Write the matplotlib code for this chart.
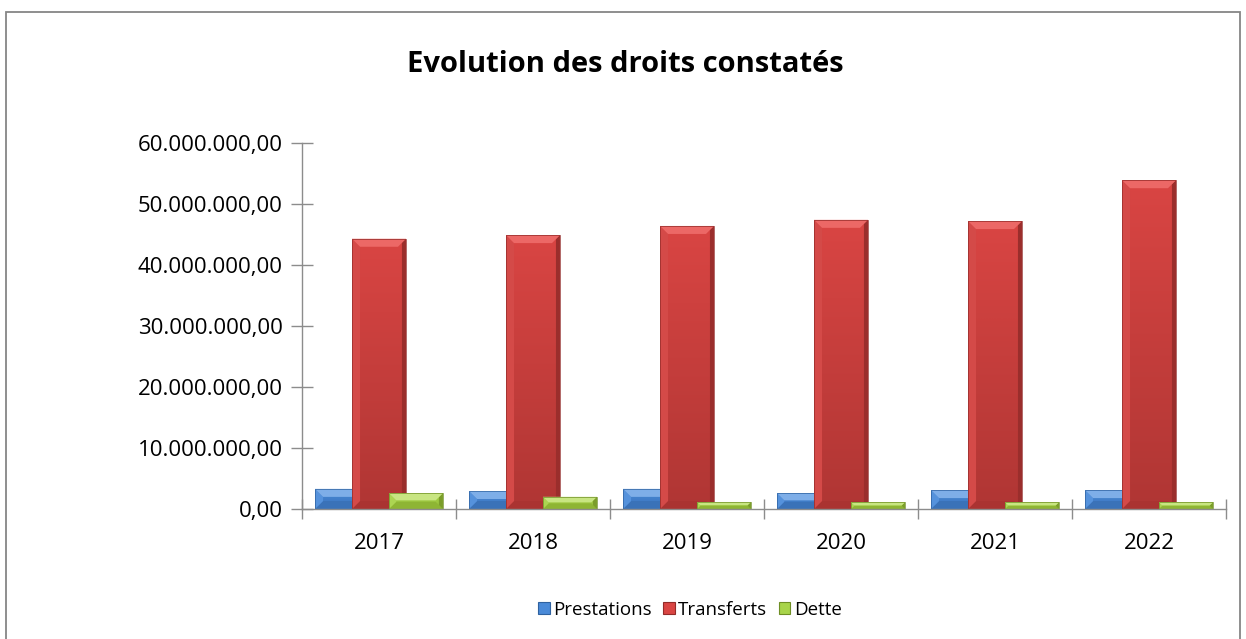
import matplotlib.pyplot as plt
import numpy as np
from matplotlib.patches import Polygon, Patch, Rectangle
from matplotlib.ticker import FuncFormatter, MultipleLocator, FixedLocator
from matplotlib.colors import LinearSegmentedColormap

# data
years = ['2017', '2018', '2019', '2020', '2021', '2022']
prestations = [3.3e6, 2.95e6, 3.3e6, 2.6e6, 3.1e6, 3.1e6]
transferts = [44.3e6, 44.9e6, 46.4e6, 47.4e6, 47.2e6, 53.9e6]
dette = [2.6e6, 2.0e6, 1.15e6, 1.1e6, 1.1e6, 1.1e6]

series_names = ['Prestations', 'Transferts', 'Dette']

# (body top, body bottom, top bevel, left bevel, right bevel, bottom bevel, edge)
styles = {
    'Prestations': ('#4a8ad8', '#3a74bd', '#7eaee8', '#5592dc', '#2f66a8', '#3a72b8', '#2f62a0'),
    'Transferts': ('#d94543', '#b03634', '#ec6866', '#d44a48', '#9a2e2c', '#aa3331', '#922b29'),
    'Dette': ('#a8d44a', '#94bd38', '#c8e582', '#acd552', '#7a9c2a', '#8eb534', '#6f8f25'),
}

FONT = 'Open Sans'
FS = 16
plt.rcParams['font.family'] = [FONT, 'DejaVu Sans']

fig = plt.figure(figsize=(12.46, 6.39), dpi=100)
W, H = 1246, 639
ax = fig.add_axes([302 / W, 1 - 509 / H, (1226 - 302) / W, (509 - 143) / H])

x = np.arange(len(years))
width = 0.35
offset = 0.24

ax.set_xlim(-0.5, len(years) - 0.5)
ax.set_ylim(0, 60e6)

bar_groups = []
for i, (name, vals) in enumerate(zip(series_names, [prestations, transferts, dette])):
    bars = ax.bar(x + (i - 1) * offset, vals, width, color=styles[name][1],
                  linewidth=0, zorder=2 + i, label=name)
    bar_groups.append((name, bars, 2 + i))

# fake 3D bevel on each bar
to_data = ax.transData.inverted()
for name, bars, z in bar_groups:
    top_c, bot_c, tb, lb, rb, bb, ec = styles[name]
    cmap = LinearSegmentedColormap.from_list(name, [bot_c, top_c])
    for p in bars:
        x0, y0 = p.get_x(), p.get_y()
        x1, y1 = x0 + p.get_width(), y0 + p.get_height()
        grad = np.linspace(0, 1, 64).reshape(-1, 1)
        im = ax.imshow(grad, extent=[x0, x1, y0, y1], origin='lower', aspect='auto',
                       cmap=cmap, zorder=z + 0.05, interpolation='bilinear')
        im.set_clip_path(p)
        (px0, py0), (px1, py1) = ax.transData.transform([(x0, y0), (x1, y1)])
        b = min(8.0, (py1 - py0) / 2.2, (px1 - px0) / 2.2)
        br = min(4.0, b)
        pieces = [
            ([(px0, py0), (px1, py0), (px1 - b, py0 + b), (px0 + b, py0 + b)], bb),
            ([(px0, py0), (px0, py1), (px0 + b, py1 - b), (px0 + b, py0 + b)], lb),
            ([(px1, py0), (px1, py1), (px1 - br, py1 - br), (px1 - br, py0 + br)], rb),
            ([(px0, py1), (px1, py1), (px1 - b, py1 - b), (px0 + b, py1 - b)], tb),
        ]
        for pts, c in pieces:
            ax.add_patch(Polygon(to_data.transform(pts), closed=True, facecolor=c,
                                 edgecolor='none', zorder=z + 0.1))
        ax.add_patch(Rectangle((x0, y0), x1 - x0, y1 - y0, facecolor='none',
                               edgecolor=ec, linewidth=0.5, zorder=z + 0.15))

# axes styling
axis_grey = '#8c8c8c'
for side in ['top', 'right']:
    ax.spines[side].set_visible(False)
for side in ['left', 'bottom']:
    ax.spines[side].set_color(axis_grey)
    ax.spines[side].set_linewidth(1.0)
    ax.spines[side].set_zorder(6)


def fr_fmt(v, pos):
    s = '{:,.2f}'.format(v)
    return s.replace(',', 'X').replace('.', ',').replace('X', '.')


ax.yaxis.set_major_locator(MultipleLocator(10e6))
ax.yaxis.set_major_formatter(FuncFormatter(fr_fmt))
ax.tick_params(axis='y', direction='inout', length=16, width=1.0, color=axis_grey,
               labelsize=FS, pad=6)

ax.set_xticks(x)
ax.set_xticklabels(years)
ax.xaxis.set_minor_locator(FixedLocator(np.arange(-0.5, len(years), 1.0)))
ax.tick_params(axis='x', which='major', length=0, labelsize=FS, pad=17)
ax.tick_params(axis='x', which='minor', direction='inout', length=15, width=1.0,
               color=axis_grey)

# title
fig.text(625 / W, 1 - 65 / H, 'Evolution des droits constatés', ha='center', va='center',
         fontsize=21, fontweight='bold')

# legend
handles = [Patch(facecolor=styles[n][0], edgecolor=styles[n][6], linewidth=0.8, label=n)
           for n in series_names]
fig.legend(handles=handles, loc='center', bbox_to_anchor=(690 / W, 1 - 610 / H),
           ncol=3, frameon=False, fontsize=13.5, handlelength=0.6, handleheight=0.6,
           handletextpad=0.2, columnspacing=0.6)

# chart border
fig.patches.append(Rectangle((6 / W, -0.05), (1240 - 6) / W, 1.05 - 12 / H,
                             transform=fig.transFigure, facecolor='none',
                             edgecolor='#868686', linewidth=1.3))

fig.savefig('out.png', dpi=100)
